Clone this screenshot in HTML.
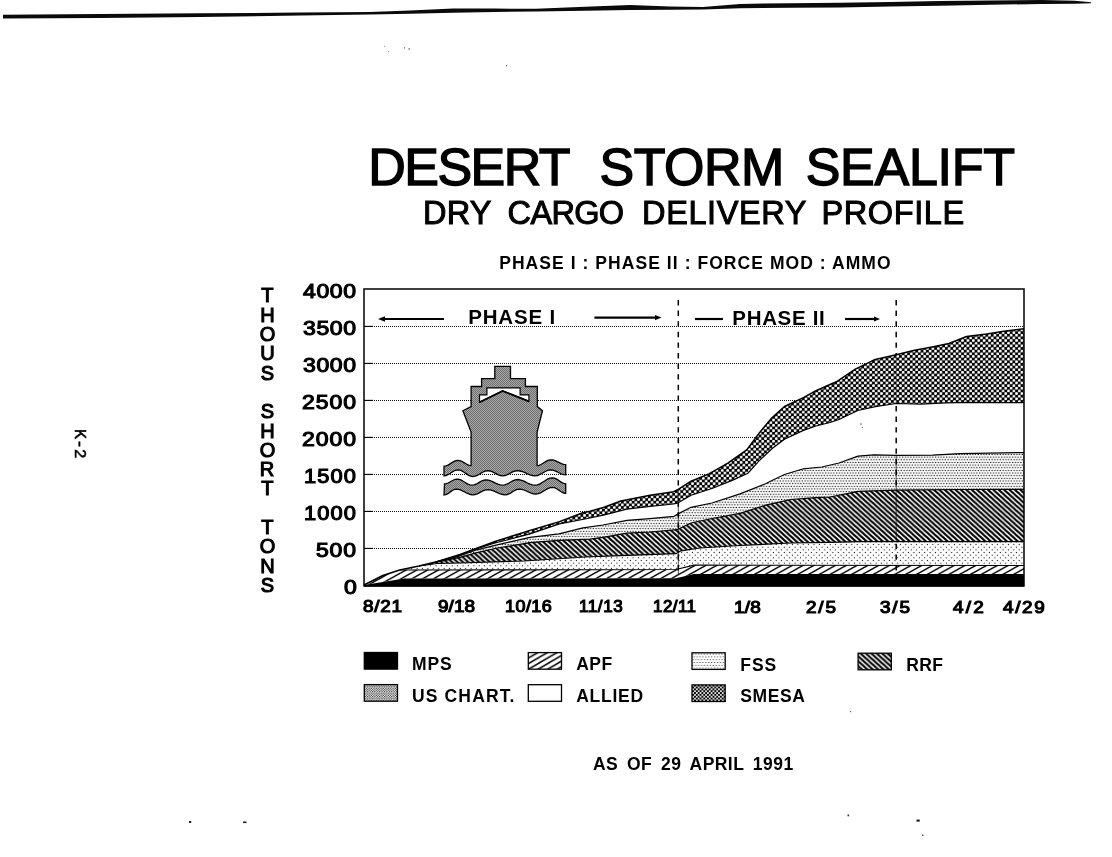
<!DOCTYPE html>
<html><head><meta charset="utf-8"><title>Desert Storm Sealift</title>
<style>
html,body{margin:0;padding:0;background:#fff;}
body{width:1112px;height:857px;position:relative;overflow:hidden;font-family:"Liberation Sans",sans-serif;color:#000;}
#page{position:absolute;left:0;top:0;width:1112px;height:857px;overflow:hidden;filter:grayscale(1);background:#fff;}
.t{position:absolute;white-space:nowrap;line-height:1;transform-origin:0 0;font-family:"Liberation Sans",sans-serif;}
#k2{left:86.6px;top:428.8px;font-family:"Liberation Mono",monospace;font-size:16.5px;transform:rotate(90deg);-webkit-text-stroke:0.5px #000;}
svg{position:absolute;left:0;top:0;}
</style></head><body><div id="page">
<svg width="1112" height="857" viewBox="0 0 1112 857">
<defs>
<pattern id="pAPF" patternUnits="userSpaceOnUse" width="10.8" height="6" x="1" y="3">
 <rect width="10.8" height="6" fill="#fff"/>
 <path d="M-10.8,12 L10.8,0 M0,12 L21.6,0 M-10.8,6 L10.8,-6" stroke="#000" stroke-width="1.5"/>
</pattern>
<pattern id="pRRF" patternUnits="userSpaceOnUse" width="5.4" height="4.9">
 <rect width="5.4" height="4.9" fill="#fff"/>
 <path d="M-5.4,-4.9 L10.8,9.8 M0,-4.9 L16.2,9.8 M-10.8,-4.9 L5.4,9.8" stroke="#000" stroke-width="2.0"/>
</pattern>
<pattern id="pFSS" patternUnits="userSpaceOnUse" width="5.4" height="5.3">
 <rect width="5.4" height="5.3" fill="#fff"/>
 <circle cx="1.3" cy="1.3" r="0.62" fill="#111"/><circle cx="4" cy="3.95" r="0.62" fill="#111"/>
</pattern>
<pattern id="pUSC" patternUnits="userSpaceOnUse" width="2.75" height="5.3">
 <rect width="2.75" height="5.3" fill="#fff"/>
 <circle cx="0.7" cy="1.3" r="0.7" fill="#000"/><circle cx="2.05" cy="3.95" r="0.7" fill="#000"/>
</pattern>
<pattern id="pSME" patternUnits="userSpaceOnUse" width="5.4" height="5.3">
 <rect width="5.4" height="5.3" fill="#000"/>
 <circle cx="1.35" cy="1.325" r="1.42" fill="#fff"/><circle cx="4.05" cy="3.975" r="1.42" fill="#fff"/>
</pattern>
<pattern id="pSHIP" patternUnits="userSpaceOnUse" width="2" height="2">
 <rect width="2" height="2" fill="#a6a6a6"/>
 <rect x="0" y="0" width="1" height="1" fill="#707070"/><rect x="1" y="1" width="1" height="1" fill="#707070"/>
</pattern>
</defs>
<line x1="364.0" y1="548.5" x2="1024.0" y2="548.5" stroke="#111" stroke-width="1" stroke-dasharray="1 1"/>
<line x1="364.0" y1="548.4" x2="373.0" y2="548.4" stroke="#000" stroke-width="1.1"/>
<line x1="364.0" y1="511.5" x2="1024.0" y2="511.5" stroke="#111" stroke-width="1" stroke-dasharray="1 1"/>
<line x1="364.0" y1="511.4" x2="373.0" y2="511.4" stroke="#000" stroke-width="1.1"/>
<line x1="364.0" y1="474.5" x2="1024.0" y2="474.5" stroke="#111" stroke-width="1" stroke-dasharray="1 1"/>
<line x1="364.0" y1="474.4" x2="373.0" y2="474.4" stroke="#000" stroke-width="1.1"/>
<line x1="364.0" y1="437.5" x2="1024.0" y2="437.5" stroke="#111" stroke-width="1" stroke-dasharray="1 1"/>
<line x1="364.0" y1="437.4" x2="373.0" y2="437.4" stroke="#000" stroke-width="1.1"/>
<line x1="364.0" y1="400.5" x2="1024.0" y2="400.5" stroke="#111" stroke-width="1" stroke-dasharray="1 1"/>
<line x1="364.0" y1="400.4" x2="373.0" y2="400.4" stroke="#000" stroke-width="1.1"/>
<line x1="364.0" y1="363.5" x2="1024.0" y2="363.5" stroke="#111" stroke-width="1" stroke-dasharray="1 1"/>
<line x1="364.0" y1="363.4" x2="373.0" y2="363.4" stroke="#000" stroke-width="1.1"/>
<line x1="364.0" y1="326.5" x2="1024.0" y2="326.5" stroke="#111" stroke-width="1" stroke-dasharray="1 1"/>
<line x1="364.0" y1="326.4" x2="373.0" y2="326.4" stroke="#000" stroke-width="1.1"/>
<polygon points="364.0,585.0 382.8,575.5 399.7,570.0 419.0,566.0 435.4,562.1 460.0,555.0 477.0,548.6 495.0,543.0 505.0,540.5 530.0,533.9 559.4,523.9 585.0,519.0 603.4,515.1 626.8,509.2 650.2,506.3 673.6,504.0 678.2,502.8 691.1,495.2 712.0,488.5 731.6,480.6 748.0,473.2 759.3,460.6 771.9,448.7 784.5,439.2 803.4,430.4 816.0,426.0 830.0,422.5 839.0,419.5 857.8,410.5 876.7,406.3 896.2,403.5 920.8,404.1 946.0,402.8 967.8,402.3 1024.0,402.7 1024.0,452.6 960.0,453.6 933.0,455.1 896.0,455.4 874.0,454.8 858.0,456.1 839.0,463.0 822.0,467.0 803.4,468.8 784.5,474.5 772.0,480.5 765.6,483.8 740.0,493.9 712.0,503.0 691.0,507.3 678.0,513.9 674.0,516.3 650.0,518.6 627.0,520.4 603.0,525.0 583.0,527.8 559.0,533.9 530.0,537.4 495.0,545.3 477.0,549.8 460.0,555.8 435.4,562.2 419.0,566.0 399.7,570.0 382.8,575.5 364.0,585.0" fill="#fff" />
<polygon points="364.0,585.0 382.8,575.5 399.7,570.0 419.0,566.0 435.4,562.2 460.0,555.8 477.0,549.8 495.0,545.3 530.0,537.4 559.0,533.9 583.0,527.8 603.0,525.0 627.0,520.4 650.0,518.6 674.0,516.3 678.0,513.9 691.0,507.3 712.0,503.0 740.0,493.9 765.6,483.8 772.0,480.5 784.5,474.5 803.4,468.8 822.0,467.0 839.0,463.0 858.0,456.1 874.0,454.8 896.0,455.4 933.0,455.1 960.0,453.6 1024.0,452.6 1024.0,489.4 960.0,489.5 896.0,490.1 858.0,491.3 830.0,497.0 816.0,497.6 790.8,499.5 765.6,505.2 740.0,513.4 712.0,518.5 691.0,523.0 677.0,529.7 650.0,532.0 627.0,533.2 603.0,537.3 590.0,539.1 559.0,540.3 530.0,542.6 495.0,548.5 477.0,552.6 460.0,557.3 435.4,562.3 419.0,566.0 399.7,570.0 382.8,575.5 364.0,585.0" fill="url(#pUSC)" />
<polygon points="364.0,585.0 382.8,575.5 399.7,570.0 419.0,566.0 437.0,563.5 460.0,563.0 524.0,561.0 585.0,557.0 627.0,555.4 676.0,553.7 681.0,550.8 700.0,548.0 740.0,545.5 791.0,543.0 830.0,542.3 860.0,541.7 1024.0,541.6 1024.0,565.5 694.0,565.2 676.0,569.5 399.7,570.0 382.8,575.5 364.0,585.0" fill="url(#pFSS)" />
<polygon points="364.0,585.0 382.8,575.5 399.7,570.0 676.0,569.5 694.0,565.2 1024.0,565.5 1024.0,574.0 694.0,574.0 676.0,578.3 404.6,578.5 364.0,585.0" fill="url(#pAPF)" />
<polygon points="364.0,585.0 404.6,578.5 676.0,578.3 694.0,574.0 1024.0,574.0 1024.0,586.5 364.0,586.5" fill="#000" />
<line x1="678.3" y1="300" x2="678.3" y2="574" stroke="#000" stroke-width="1.5" stroke-dasharray="5.4 5.2"/>
<line x1="896.2" y1="300" x2="896.2" y2="574" stroke="#000" stroke-width="1.5" stroke-dasharray="5.4 5.2"/>
<polygon points="364.0,585.0 382.8,575.5 399.7,570.0 419.0,566.0 435.4,562.1 460.0,554.5 495.0,541.5 530.0,530.4 559.4,521.6 582.8,512.8 590.0,511.2 603.4,507.5 620.9,501.0 650.2,495.2 673.6,491.7 678.2,489.4 691.1,481.2 708.9,473.9 727.8,463.2 746.7,449.9 759.3,432.9 771.9,417.8 784.5,406.5 803.4,397.6 816.0,390.7 830.0,384.5 836.4,381.8 855.3,369.2 874.2,359.8 896.2,354.7 914.5,350.3 933.4,346.7 948.9,343.5 966.5,336.5 986.7,334.0 1005.6,330.9 1024.0,328.7 1024.0,402.7 967.8,402.3 946.0,402.8 920.8,404.1 896.2,403.5 876.7,406.3 857.8,410.5 839.0,419.5 830.0,422.5 816.0,426.0 803.4,430.4 784.5,439.2 771.9,448.7 759.3,460.6 748.0,473.2 731.6,480.6 712.0,488.5 691.1,495.2 678.2,502.8 673.6,504.0 650.2,506.3 626.8,509.2 603.4,515.1 585.0,519.0 559.4,523.9 530.0,533.9 505.0,540.5 495.0,543.0 477.0,548.6 460.0,555.0 435.4,562.1 419.0,566.0 399.7,570.0 382.8,575.5 364.0,585.0" fill="url(#pSME)" />
<polygon points="364.0,585.0 382.8,575.5 399.7,570.0 419.0,566.0 435.4,562.3 460.0,557.3 477.0,552.6 495.0,548.5 530.0,542.6 559.0,540.3 590.0,539.1 603.0,537.3 627.0,533.2 650.0,532.0 677.0,529.7 691.0,523.0 712.0,518.5 740.0,513.4 765.6,505.2 790.8,499.5 816.0,497.6 830.0,497.0 858.0,491.3 896.0,490.1 960.0,489.5 1024.0,489.4 1024.0,541.6 860.0,541.7 830.0,542.3 791.0,543.0 740.0,545.5 700.0,548.0 681.0,550.8 676.0,553.7 627.0,555.4 585.0,557.0 524.0,561.0 460.0,563.0 437.0,563.5 419.0,566.0 399.7,570.0 382.8,575.5 364.0,585.0" fill="url(#pRRF)" />
<line x1="678.3" y1="490" x2="678.3" y2="574" stroke="#000" stroke-width="0.9" opacity="0.75"/>
<line x1="896.2" y1="455" x2="896.2" y2="542" stroke="#000" stroke-width="0.9" opacity="0.7"/>
<line x1="896.2" y1="355" x2="896.2" y2="403" stroke="#000" stroke-width="0.8" opacity="0.35"/>
<polyline points="399.7,570.0 676.0,569.5 694.0,565.2 1024.0,565.5" fill="none" stroke="#000" stroke-width="1.2" stroke-linejoin="round"/>
<polyline points="419.0,566.0 437.0,563.5 460.0,563.0 524.0,561.0 585.0,557.0 627.0,555.4 676.0,553.7 681.0,550.8 700.0,548.0 740.0,545.5 791.0,543.0 830.0,542.3 860.0,541.7 1024.0,541.6" fill="none" stroke="#000" stroke-width="1.2" stroke-linejoin="round"/>
<polyline points="435.4,562.3 460.0,557.3 477.0,552.6 495.0,548.5 530.0,542.6 559.0,540.3 590.0,539.1 603.0,537.3 627.0,533.2 650.0,532.0 677.0,529.7 691.0,523.0 712.0,518.5 740.0,513.4 765.6,505.2 790.8,499.5 816.0,497.6 830.0,497.0 858.0,491.3 896.0,490.1 960.0,489.5 1024.0,489.4" fill="none" stroke="#000" stroke-width="1.2" stroke-linejoin="round"/>
<polyline points="435.4,562.2 460.0,555.8 477.0,549.8 495.0,545.3 530.0,537.4 559.0,533.9 583.0,527.8 603.0,525.0 627.0,520.4 650.0,518.6 674.0,516.3 678.0,513.9 691.0,507.3 712.0,503.0 740.0,493.9 765.6,483.8 772.0,480.5 784.5,474.5 803.4,468.8 822.0,467.0 839.0,463.0 858.0,456.1 874.0,454.8 896.0,455.4 933.0,455.1 960.0,453.6 1024.0,452.6" fill="none" stroke="#000" stroke-width="1.2" stroke-linejoin="round"/>
<polyline points="435.4,562.1 460.0,555.0 477.0,548.6 495.0,543.0 505.0,540.5 530.0,533.9 559.4,523.9 585.0,519.0 603.4,515.1 626.8,509.2 650.2,506.3 673.6,504.0 678.2,502.8 691.1,495.2 712.0,488.5 731.6,480.6 748.0,473.2 759.3,460.6 771.9,448.7 784.5,439.2 803.4,430.4 816.0,426.0 830.0,422.5 839.0,419.5 857.8,410.5 876.7,406.3 896.2,403.5 920.8,404.1 946.0,402.8 967.8,402.3 1024.0,402.7" fill="none" stroke="#000" stroke-width="1.2" stroke-linejoin="round"/>
<polyline points="364.0,585.0 382.8,575.5 399.7,570.0 419.0,566.0 435.4,562.1 460.0,554.5 495.0,541.5 530.0,530.4 559.4,521.6 582.8,512.8 590.0,511.2 603.4,507.5 620.9,501.0 650.2,495.2 673.6,491.7 678.2,489.4 691.1,481.2 708.9,473.9 727.8,463.2 746.7,449.9 759.3,432.9 771.9,417.8 784.5,406.5 803.4,397.6 816.0,390.7 830.0,384.5 836.4,381.8 855.3,369.2 874.2,359.8 896.2,354.7 914.5,350.3 933.4,346.7 948.9,343.5 966.5,336.5 986.7,334.0 1005.6,330.9 1024.0,328.7" fill="none" stroke="#000" stroke-width="1.5" stroke-linejoin="round"/>
<rect x="364.0" y="289.0" width="660.0" height="297.0" fill="none" stroke="#000" stroke-width="1.5"/>

<g stroke="#000" stroke-width="1.3" stroke-linejoin="miter">
<path d="M444.0,466.2 L446.0,465.9 L448.0,465.1 L450.0,463.9 L452.0,462.6 L454.0,461.4 L456.0,460.6 L458.0,460.3 L459.9,460.6 L461.7,461.3 L463.6,462.4 L465.5,463.5 L467.4,464.6 L469.2,465.3 L471.1,465.6 V432 L462.9,410.7 L471.1,406.6 V386.5 H481.6 V378.6 H494.8 V366.4 H510.5 V378.6 H525.4 V386.5 H537.3 V406.6 L542.5,410.7 L537.1,432 V465.6 L539.1,465.3 L541.0,464.5 L543.0,463.3 L544.9,462.1 L546.9,460.9 L548.8,460.1 L550.8,459.8 L552.9,460.0 L555.1,460.7 L557.2,461.7 L559.3,462.7 L561.4,463.7 L563.6,464.4 L565.7,464.6 L565.7,474.9 L563.6,474.7 L561.4,474.0 L559.3,473.0 L557.2,471.8 L555.1,470.8 L552.9,470.1 L550.8,469.9 L548.5,470.2 L546.3,471.0 L544.0,472.2 L541.8,473.5 L539.5,474.7 L537.3,475.5 L535.0,475.8 L532.5,475.5 L530.0,474.8 L527.5,473.8 L525.0,472.7 L522.5,471.7 L520.0,471.0 L517.5,470.7 L515.4,471.0 L513.2,471.7 L511.1,472.7 L509.0,473.8 L506.9,474.8 L504.7,475.5 L502.6,475.8 L500.5,475.5 L498.4,474.8 L496.3,473.8 L494.1,472.7 L492.0,471.7 L489.9,471.0 L487.8,470.7 L485.7,471.0 L483.5,471.8 L481.4,473.0 L479.3,474.2 L477.2,475.4 L475.0,476.2 L472.9,476.5 L470.8,476.2 L468.6,475.3 L466.5,473.9 L464.4,472.5 L462.3,471.1 L460.1,470.2 L458.0,469.9 L456.0,470.2 L454.0,471.0 L452.0,472.2 L450.0,473.5 L448.0,474.7 L446.0,475.5 L444.0,475.8 Z" fill="url(#pSHIP)"/>
<path d="M486.9,387.9 H520.1 V394.9 H528.9 V401.4 L502.6,390.9 L479.5,402.3 V394.9 H486.9 Z" fill="#fff" stroke-width="1.2"/>
<path d="M479.5,402.3 L502.6,390.9 L528.9,401.4" fill="none" stroke-width="1.8"/>
<path d="M444.5,483.9 L446.3,483.7 L448.1,483.0 L449.9,482.0 L451.7,481.0 L453.5,480.0 L455.3,479.3 L457.1,479.1 L459.2,479.4 L461.4,480.2 L463.5,481.5 L465.6,482.8 L467.7,484.1 L469.9,484.9 L472.0,485.2 L474.0,484.9 L476.0,484.2 L478.0,483.1 L480.0,481.9 L482.0,480.8 L484.0,480.1 L486.0,479.8 L488.4,480.1 L490.7,480.8 L493.1,481.9 L495.5,483.1 L497.9,484.2 L500.2,484.9 L502.6,485.2 L504.7,484.9 L506.9,484.1 L509.0,483.0 L511.1,481.7 L513.2,480.6 L515.4,479.8 L517.5,479.5 L520.0,479.8 L522.5,480.6 L525.0,481.7 L527.5,483.0 L530.0,484.1 L532.5,484.9 L535.0,485.2 L537.5,484.8 L540.0,483.8 L542.5,482.3 L545.0,480.7 L547.5,479.2 L550.0,478.2 L552.5,477.8 L554.4,478.1 L556.3,478.9 L558.2,480.1 L560.0,481.4 L561.9,482.6 L563.8,483.4 L565.7,483.7 L565.7,493.3 L563.8,493.0 L561.9,492.2 L560.0,491.0 L558.2,489.7 L556.3,488.5 L554.4,487.7 L552.5,487.4 L550.1,487.7 L547.8,488.6 L545.4,490.0 L543.0,491.4 L540.6,492.8 L538.3,493.7 L535.9,494.0 L533.5,493.8 L531.2,493.1 L528.8,492.1 L526.4,491.0 L524.0,490.0 L521.7,489.3 L519.3,489.1 L517.3,489.4 L515.3,490.2 L513.3,491.3 L511.3,492.6 L509.3,493.7 L507.3,494.5 L505.3,494.8 L502.8,494.5 L500.3,493.8 L497.8,492.8 L495.3,491.6 L492.8,490.6 L490.3,489.9 L487.8,489.6 L485.7,489.9 L483.5,490.6 L481.4,491.6 L479.3,492.8 L477.2,493.8 L475.0,494.5 L472.9,494.8 L470.5,494.5 L468.2,493.7 L465.8,492.6 L463.4,491.3 L461.0,490.2 L458.7,489.4 L456.3,489.1 L454.5,489.4 L452.8,490.2 L451.0,491.4 L449.3,492.7 L447.5,493.9 L445.8,494.7 L444.0,495.0 Z" fill="url(#pSHIP)"/>
</g>
<g stroke="#000" stroke-width="2.2" fill="#000"><line x1="383" y1="319" x2="444" y2="319"/><polygon points="378,319 385,316.3 385,321.7" stroke="none"/><line x1="594.4" y1="317.6" x2="657" y2="317.6"/><polygon points="661.6,317.6 655,315 655,320.2" stroke="none"/><line x1="695" y1="319" x2="723" y2="319"/><line x1="845" y1="319" x2="876" y2="319"/><polygon points="880,319 874,316.5 874,321.5" stroke="none"/></g>
<polygon points="3.0,14.7 100.0,14.0 200.0,13.3 300.0,12.6 370.0,12.1 410.0,10.5 453.0,8.4 495.0,8.6 536.0,8.7 585.0,6.8 630.0,5.0 670.0,6.4 703.0,7.0 740.0,3.9 790.0,3.2 840.0,2.7 890.0,1.9 940.0,1.0 990.0,0.4 1041.0,0.0 1075.0,0.8 1091.0,2.2 1091.0,3.2 1075.0,3.8 1041.0,4.0 990.0,4.8 940.0,5.7 890.0,6.5 840.0,7.4 790.0,7.8 740.0,8.2 703.0,9.6 670.0,9.8 630.0,10.0 585.0,10.8 536.0,11.4 495.0,12.0 453.0,12.7 410.0,13.8 370.0,14.6 300.0,15.6 200.0,17.0 100.0,17.9 3.0,18.6" fill="#0a0a0a"/>
<rect x="189" y="821" width="2.2" height="2" fill="#222"/>
<rect x="243" y="821.5" width="3.5" height="1.6" fill="#222"/>
<rect x="847.5" y="814.5" width="1.6" height="1.8" fill="#333"/>
<rect x="916.5" y="819.5" width="3.2" height="2.2" fill="#222"/>
<rect x="922" y="834.5" width="1.4" height="1.4" fill="#444"/>
<rect x="850" y="711" width="1.2" height="1.2" fill="#666"/>
<rect x="384" y="46" width="1" height="1" fill="#999"/>
<rect x="388" y="51" width="1" height="1" fill="#999"/>
<rect x="404" y="47" width="1" height="1.6" fill="#888"/>
<rect x="408.5" y="48" width="1.4" height="1.8" fill="#888"/>
<rect x="506" y="65" width="1.2" height="1.2" fill="#666"/>
<rect x="860" y="423.5" width="2" height="1" fill="#777"/>
<rect x="862" y="427" width="1" height="1" fill="#888"/>
<defs><pattern id="pAPF2" patternUnits="userSpaceOnUse" width="9.6" height="5.6" x="1.5" y="2.2">
 <rect width="9.6" height="5.6" fill="#fff"/>
 <path d="M-9.6,11.2 L9.6,0 M0,11.2 L19.2,0 M-9.6,5.6 L9.6,-5.6" stroke="#000" stroke-width="1.5"/>
</pattern>
<pattern id="pUSC2" patternUnits="userSpaceOnUse" width="2.4" height="2.4">
 <rect width="2.4" height="2.4" fill="#fff"/>
 <circle cx="0.6" cy="0.6" r="0.62" fill="#111"/><circle cx="1.8" cy="1.8" r="0.62" fill="#111"/>
</pattern>
<pattern id="pFSS2" patternUnits="userSpaceOnUse" width="2.9" height="5.6" x="0.5" y="0.3">
 <rect width="2.9" height="5.6" fill="#fff"/>
 <circle cx="0.75" cy="1.4" r="0.58" fill="#111"/><circle cx="2.2" cy="4.2" r="0.58" fill="#111"/>
</pattern>
<pattern id="pSME2" patternUnits="userSpaceOnUse" width="3.7" height="3.7" x="0.3" y="0.2">
 <rect width="3.7" height="3.7" fill="#000"/>
 <circle cx="0.92" cy="0.92" r="0.98" fill="#fff"/><circle cx="2.77" cy="2.77" r="0.98" fill="#fff"/>
</pattern></defs>
<rect x="364.3" y="652.5" width="33.2" height="16.6" fill="#000" stroke="#000" stroke-width="1.3"/>
<rect x="528.3" y="652.6" width="33.2" height="16.6" fill="url(#pAPF2)" stroke="#000" stroke-width="1.3"/>
<rect x="692.0" y="652.8" width="33.2" height="16.6" fill="url(#pFSS2)" stroke="#000" stroke-width="1.3"/>
<rect x="858.1" y="653.2" width="33.2" height="16.6" fill="url(#pRRF)" stroke="#000" stroke-width="1.3"/>
<rect x="364.3" y="684.6" width="33.2" height="16.6" fill="url(#pUSC2)" stroke="#000" stroke-width="1.3"/>
<rect x="528.3" y="684.7" width="33.2" height="16.6" fill="#fff" stroke="#000" stroke-width="1.3"/>
<rect x="692.0" y="684.9" width="33.2" height="16.6" fill="url(#pSME2)" stroke="#000" stroke-width="1.3"/>
</svg>
<div class="t" style="left:368.3px;top:141px;font-size:52px;letter-spacing:-1.54px;font-weight:400;-webkit-text-stroke:1.4px #000;">DESERT</div>
<div class="t" style="left:599.6px;top:141px;font-size:52px;letter-spacing:-0.55px;font-weight:400;-webkit-text-stroke:1.4px #000;">STORM</div>
<div class="t" style="left:805.7px;top:141px;font-size:52px;letter-spacing:-0.28px;font-weight:400;-webkit-text-stroke:1.4px #000;">SEALIFT</div>
<div class="t" style="left:423.0px;top:197px;font-size:32.5px;letter-spacing:0.25px;font-weight:400;-webkit-text-stroke:1.0px #000;">DRY</div>
<div class="t" style="left:507.6px;top:197px;font-size:32.5px;letter-spacing:-0.66px;font-weight:400;-webkit-text-stroke:1.0px #000;">CARGO</div>
<div class="t" style="left:642.1px;top:197px;font-size:32.5px;letter-spacing:0.59px;font-weight:400;-webkit-text-stroke:1.0px #000;">DELIVERY</div>
<div class="t" style="left:821.5px;top:197px;font-size:32.5px;letter-spacing:0.6px;font-weight:400;-webkit-text-stroke:1.0px #000;">PROFILE</div>
<div class="t" style="left:499.2px;top:255px;font-size:17.5px;letter-spacing:1.06px;font-weight:bold;">PHASE I : PHASE II : FORCE MOD : AMMO</div>
<div class="t" style="left:344.4px;top:578px;font-size:19.5px;letter-spacing:0px;font-weight:400;transform:scaleX(1.18);-webkit-text-stroke:1.1px #000;">0</div>
<div class="t" style="left:316.4px;top:541px;font-size:19.5px;letter-spacing:0.67px;font-weight:400;transform:scaleX(1.18);-webkit-text-stroke:1.1px #000;">500</div>
<div class="t" style="left:304.4px;top:504px;font-size:19.5px;letter-spacing:0.95px;font-weight:400;transform:scaleX(1.12);-webkit-text-stroke:1.1px #000;">1000</div>
<div class="t" style="left:304.4px;top:467px;font-size:19.5px;letter-spacing:0.95px;font-weight:400;transform:scaleX(1.12);-webkit-text-stroke:1.1px #000;">1500</div>
<div class="t" style="left:302.4px;top:430px;font-size:19.5px;letter-spacing:0.81px;font-weight:400;transform:scaleX(1.18);-webkit-text-stroke:1.1px #000;">2000</div>
<div class="t" style="left:302.4px;top:393px;font-size:19.5px;letter-spacing:0.81px;font-weight:400;transform:scaleX(1.18);-webkit-text-stroke:1.1px #000;">2500</div>
<div class="t" style="left:303.4px;top:356px;font-size:19.5px;letter-spacing:0.53px;font-weight:400;transform:scaleX(1.18);-webkit-text-stroke:1.1px #000;">3000</div>
<div class="t" style="left:303.4px;top:319px;font-size:19.5px;letter-spacing:0.53px;font-weight:400;transform:scaleX(1.18);-webkit-text-stroke:1.1px #000;">3500</div>
<div class="t" style="left:303.4px;top:282px;font-size:19.5px;letter-spacing:0.53px;font-weight:400;transform:scaleX(1.18);-webkit-text-stroke:1.1px #000;">4000</div>
<div class="t" style="left:363.2px;top:599px;font-size:16px;letter-spacing:0.66px;font-weight:400;transform:scaleX(1.18);-webkit-text-stroke:1.1px #000;">8/21</div>
<div class="t" style="left:437.5px;top:599px;font-size:16px;letter-spacing:0.09px;font-weight:400;transform:scaleX(1.18);-webkit-text-stroke:1.1px #000;">9/18</div>
<div class="t" style="left:504.5px;top:599px;font-size:16px;letter-spacing:0.43px;font-weight:400;transform:scaleX(1.12);-webkit-text-stroke:1.1px #000;">10/16</div>
<div class="t" style="left:579.0px;top:599px;font-size:16px;letter-spacing:0.59px;font-weight:400;transform:scaleX(1.06);-webkit-text-stroke:1.1px #000;">11/13</div>
<div class="t" style="left:653.0px;top:599px;font-size:16px;letter-spacing:0.43px;font-weight:400;transform:scaleX(1.06);-webkit-text-stroke:1.1px #000;">12/11</div>
<div class="t" style="left:733.6px;top:600px;font-size:16px;letter-spacing:0.18px;font-weight:400;transform:scaleX(1.18);-webkit-text-stroke:1.1px #000;">1/8</div>
<div class="t" style="left:806.0px;top:600px;font-size:16px;letter-spacing:1.57px;font-weight:400;transform:scaleX(1.18);-webkit-text-stroke:1.1px #000;">2/5</div>
<div class="t" style="left:880.0px;top:600px;font-size:16px;letter-spacing:1.57px;font-weight:400;transform:scaleX(1.18);-webkit-text-stroke:1.1px #000;">3/5</div>
<div class="t" style="left:953.0px;top:600px;font-size:16px;letter-spacing:1.94px;font-weight:400;transform:scaleX(1.18);-webkit-text-stroke:1.1px #000;">4/2</div>
<div class="t" style="left:1002.7px;top:600px;font-size:16px;letter-spacing:1.41px;font-weight:400;transform:scaleX(1.18);-webkit-text-stroke:1.1px #000;">4/29</div>
<div class="t" style="left:468.2px;top:307px;font-size:20.5px;letter-spacing:0.82px;font-weight:bold;">PHASE I</div>
<div class="t" style="left:732.3px;top:308px;font-size:20.5px;letter-spacing:0.68px;font-weight:bold;">PHASE II</div>
<div class="t" style="left:412.0px;top:656px;font-size:17.5px;letter-spacing:0.9px;font-weight:bold;">MPS</div>
<div class="t" style="left:576.2px;top:656px;font-size:17.5px;letter-spacing:0.45px;font-weight:bold;">APF</div>
<div class="t" style="left:740.3px;top:657px;font-size:17.5px;letter-spacing:0.95px;font-weight:bold;">FSS</div>
<div class="t" style="left:906.2px;top:657px;font-size:17.5px;letter-spacing:0.35px;font-weight:bold;">RRF</div>
<div class="t" style="left:412.0px;top:688px;font-size:17.5px;letter-spacing:1.14px;font-weight:bold;">US CHART.</div>
<div class="t" style="left:576.2px;top:688px;font-size:17.5px;letter-spacing:0.74px;font-weight:bold;">ALLIED</div>
<div class="t" style="left:740.3px;top:688px;font-size:17.5px;letter-spacing:0.6px;font-weight:bold;">SMESA</div>
<div class="t" style="left:592.9px;top:756px;font-size:17.5px;letter-spacing:0.46px;font-weight:bold;word-spacing:3.5px;">AS OF 29 APRIL 1991</div>
<div class="t" style="left:261.3px;top:285px;font-size:20px;letter-spacing:0px;font-weight:400;-webkit-text-stroke:1.1px #000;">T</div>
<div class="t" style="left:260.3px;top:305px;font-size:20px;letter-spacing:0px;font-weight:400;-webkit-text-stroke:1.1px #000;">H</div>
<div class="t" style="left:259.8px;top:324px;font-size:20px;letter-spacing:0px;font-weight:400;-webkit-text-stroke:1.1px #000;">O</div>
<div class="t" style="left:260.3px;top:343px;font-size:20px;letter-spacing:0px;font-weight:400;-webkit-text-stroke:1.1px #000;">U</div>
<div class="t" style="left:260.8px;top:363px;font-size:20px;letter-spacing:0px;font-weight:400;-webkit-text-stroke:1.1px #000;">S</div>
<div class="t" style="left:260.8px;top:401px;font-size:20px;letter-spacing:0px;font-weight:400;-webkit-text-stroke:1.1px #000;">S</div>
<div class="t" style="left:260.3px;top:421px;font-size:20px;letter-spacing:0px;font-weight:400;-webkit-text-stroke:1.1px #000;">H</div>
<div class="t" style="left:259.8px;top:440px;font-size:20px;letter-spacing:0px;font-weight:400;-webkit-text-stroke:1.1px #000;">O</div>
<div class="t" style="left:259.8px;top:459px;font-size:20px;letter-spacing:0px;font-weight:400;-webkit-text-stroke:1.1px #000;">R</div>
<div class="t" style="left:261.3px;top:478px;font-size:20px;letter-spacing:0px;font-weight:400;-webkit-text-stroke:1.1px #000;">T</div>
<div class="t" style="left:261.3px;top:517px;font-size:20px;letter-spacing:0px;font-weight:400;-webkit-text-stroke:1.1px #000;">T</div>
<div class="t" style="left:259.8px;top:536px;font-size:20px;letter-spacing:0px;font-weight:400;-webkit-text-stroke:1.1px #000;">O</div>
<div class="t" style="left:260.3px;top:556px;font-size:20px;letter-spacing:0px;font-weight:400;-webkit-text-stroke:1.1px #000;">N</div>
<div class="t" style="left:260.8px;top:575px;font-size:20px;letter-spacing:0px;font-weight:400;-webkit-text-stroke:1.1px #000;">S</div>
<div class="t" id="k2">K-2</div>
</div></body></html>
